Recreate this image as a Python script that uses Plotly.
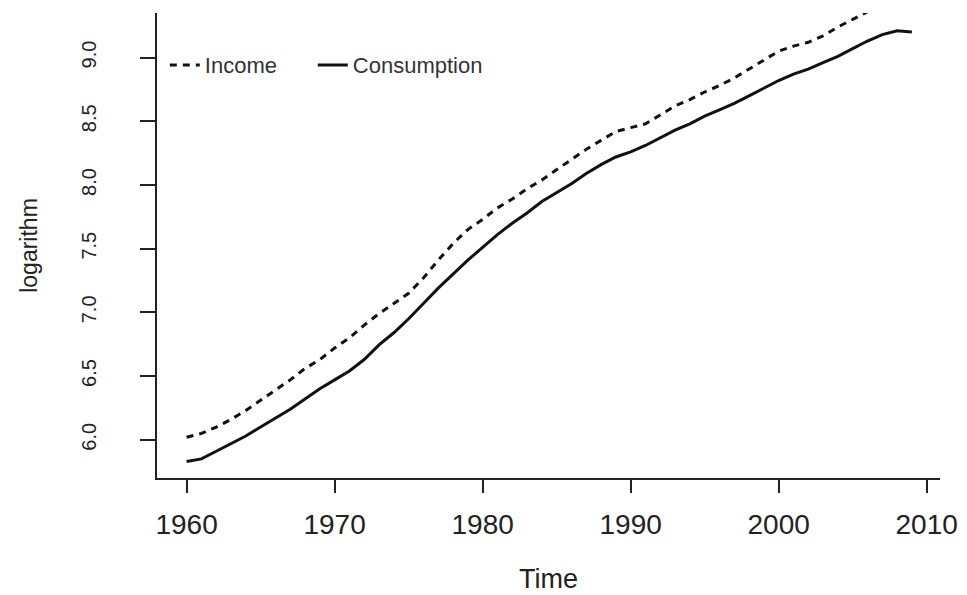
import plotly.graph_objects as go

years = list(range(1960, 2010))

consumption = [
    5.83, 5.85, 5.91, 5.97, 6.03, 6.10, 6.17, 6.24, 6.32, 6.40,
    6.47, 6.54, 6.63, 6.745, 6.84, 6.95, 7.07, 7.19, 7.30, 7.41,
    7.51, 7.61, 7.70, 7.78, 7.87, 7.94, 8.01, 8.09, 8.16, 8.22,
    8.26, 8.31, 8.37, 8.43, 8.48, 8.54, 8.59, 8.64, 8.70, 8.76,
    8.82, 8.87, 8.91, 8.96, 9.01, 9.07, 9.13, 9.18, 9.21, 9.20,
]

income = [
    6.02, 6.05, 6.10, 6.16, 6.23, 6.31, 6.39, 6.47, 6.56, 6.63,
    6.72, 6.80, 6.90, 6.99, 7.07, 7.15, 7.27, 7.41, 7.54, 7.65,
    7.73, 7.82, 7.89, 7.97, 8.04, 8.12, 8.20, 8.28, 8.35, 8.42,
    8.45, 8.48, 8.55, 8.62, 8.67, 8.73, 8.78, 8.84, 8.91, 8.98,
    9.05, 9.09, 9.12, 9.17, 9.24, 9.30, 9.36, 9.41, 9.44, 9.45,
]

x_ticks = [1960, 1970, 1980, 1990, 2000, 2010]
y_ticks = [6.0, 6.5, 7.0, 7.5, 8.0, 8.5, 9.0]

FONT = "Liberation Sans, Arial, Helvetica, sans-serif"
INK = "#222222"

fig = go.Figure()
fig.add_trace(go.Scatter(
    x=years, y=income, mode="lines", name="Income", legend="legend",
    line=dict(color="#111111", width=3, dash="7px,6px"),
))
fig.add_trace(go.Scatter(
    x=years, y=consumption, mode="lines", name="Consumption", legend="legend2",
    line=dict(color="#111111", width=3),
))

legend_common = dict(
    orientation="h", y=0.888, xanchor="left", yanchor="middle",
    font=dict(size=22, color="#333333"), bgcolor="rgba(0,0,0,0)",
    itemwidth=30,
)

# the page body adds an 8px margin; figure is sized to fill the rest
fig.update_layout(
    width=959, height=587,
    margin=dict(l=149, r=27, t=5, b=117, autoexpand=False),
    paper_bgcolor="white", plot_bgcolor="white",
    font=dict(family=FONT, color=INK),
    showlegend=True,
    legend=dict(x=0.010, **legend_common),
    legend2=dict(x=0.199, **legend_common),
    xaxis=dict(
        range=[1958.0, 2010.9], tickvals=x_ticks, automargin=False,
        showgrid=False, zeroline=False,
        showline=True, linecolor=INK, linewidth=1.5,
        ticks="outside", ticklen=13, tickwidth=1.5, tickcolor=INK,
        tickfont=dict(size=28, color=INK),
        ticklabelstandoff=8,
        title=dict(text="Time", font=dict(size=27, color=INK), standoff=30),
    ),
    yaxis=dict(
        range=[5.70, 9.35], tickvals=y_ticks, tickformat=".1f", automargin=False,
        showgrid=False, zeroline=False,
        showline=True, linecolor=INK, linewidth=1.5,
        ticks="outside", ticklen=15, tickwidth=1.5, tickcolor=INK,
        tickfont=dict(size=20, color=INK), tickangle=-90,
        ticklabelstandoff=36,
        title=dict(text="logarithm", font=dict(size=23, color=INK), standoff=34),
    ),
)

fig.write_html("out.html")
